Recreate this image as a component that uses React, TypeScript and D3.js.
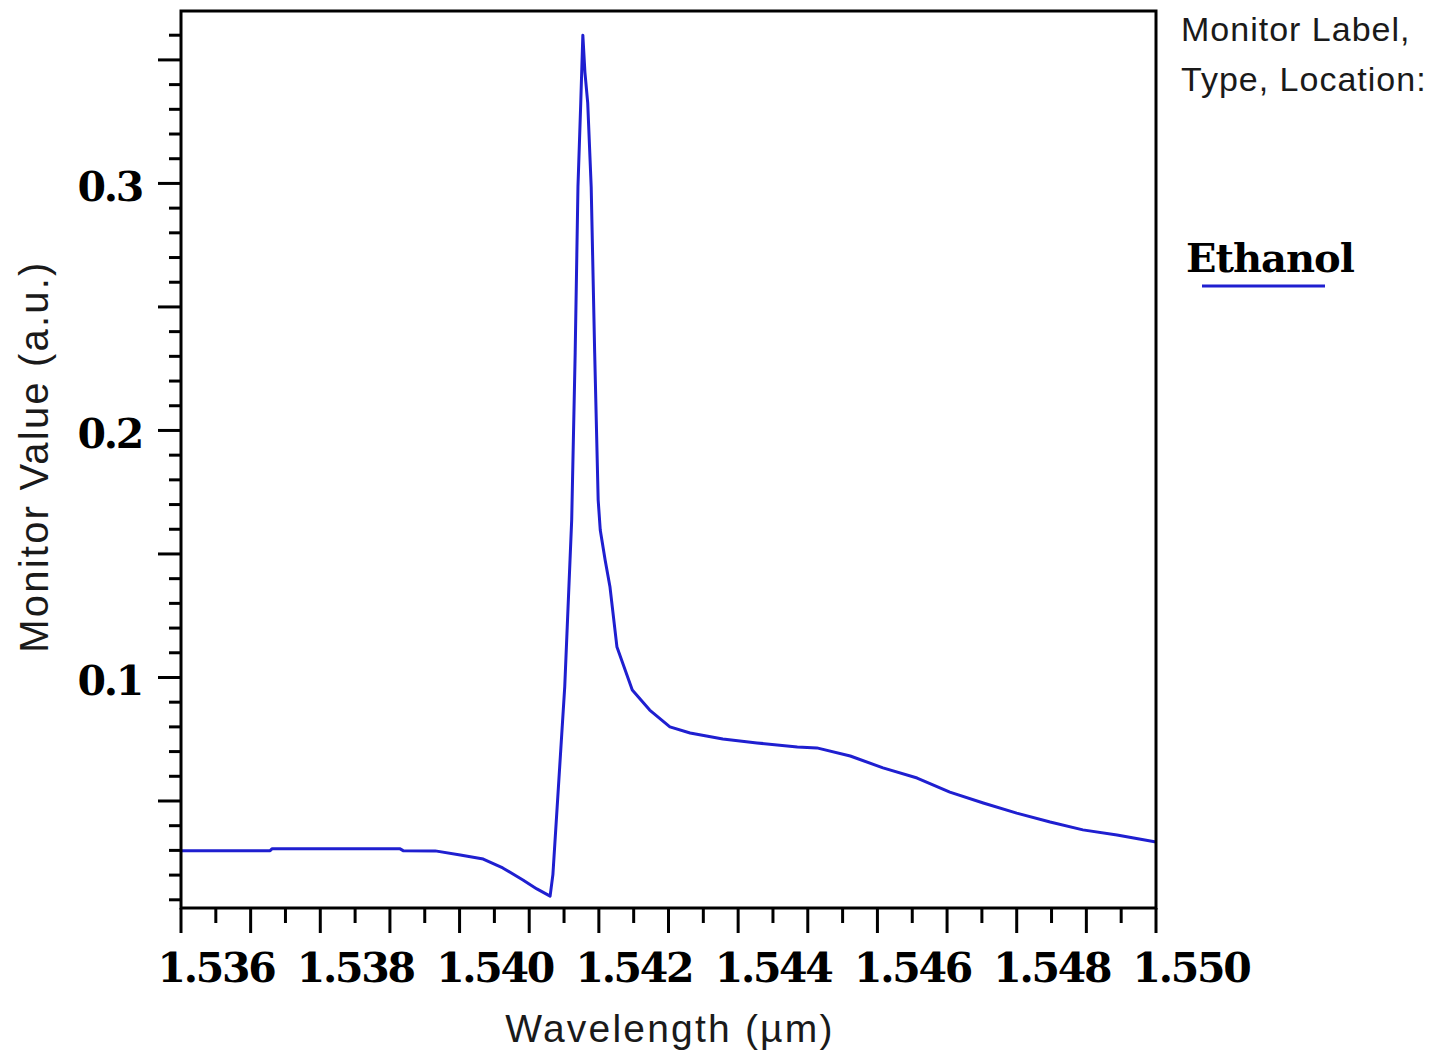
import React from "react";
import * as d3 from "d3";

const wavelengths = [
  1.536, 1.53728, 1.53731, 1.53914, 1.53919, 1.53965, 1.54001, 1.54034, 1.54062, 1.54091,
  1.54111, 1.5413, 1.54134, 1.54151, 1.54161, 1.54166, 1.5417, 1.54174, 1.54177, 1.5418,
  1.54184, 1.54189, 1.54194, 1.54199, 1.54202, 1.54209, 1.54216, 1.54226, 1.54248, 1.54273,
  1.54302, 1.54331, 1.54378, 1.54427, 1.54485, 1.54513, 1.54561, 1.54608, 1.54657, 1.54704,
  1.54752, 1.548, 1.54848, 1.54895, 1.54944, 1.55,
];
const ethanolValues = [
  0.0299, 0.0299, 0.0307, 0.0307, 0.0299, 0.0298, 0.0281, 0.0265, 0.0229, 0.018,
  0.0144, 0.0115, 0.0202, 0.0962, 0.1638, 0.2314, 0.2986, 0.3326, 0.36, 0.345,
  0.3326, 0.2986, 0.2314, 0.1719, 0.1597, 0.1476, 0.1366, 0.1123, 0.0949, 0.0868,
  0.08, 0.0775, 0.0751, 0.0735, 0.0719, 0.0715, 0.0682, 0.0634, 0.0593, 0.0536,
  0.0492, 0.0451, 0.0415, 0.0383, 0.0362, 0.0334,
];
const xTickLabels = [1.536, 1.538, 1.54, 1.542, 1.544, 1.546, 1.548, 1.55];
const yTickLabels = [0.1, 0.2, 0.3];
const legendTitle = ["Monitor Label,", "Type, Location:"];
const seriesName = "Ethanol";
const xTitle = "Wavelength (\u00b5m)";
const yTitle = "Monitor Value (a.u.)";

const W = 1452;
const H = 1063;
const L = 181, T = 11, R = 1156, B = 908;
const BLUE = "#1f1fd0";

export default function App() {
  const x = d3.scaleLinear().domain([1.536, 1.55]).range([L, R]);
  const y = d3.scaleLinear().domain([0.00668, 0.3698]).range([B, T]);
  const data = wavelengths.map((w, i) => [w, ethanolValues[i]] as [number, number]);
  const line = d3.line<[number, number]>().x(d => x(d[0])).y(d => y(d[1]));

  const xMinor = d3.range(0, 29).map(i => 1.536 + i * 0.0005);
  const yMinor = d3.range(1, 37).map(i => i * 0.01).filter(v => y(v) >= T && y(v) <= B);

  const sans = "'Liberation Sans', Arial, sans-serif";
  const serif = "'DejaVu Serif', serif";

  return (
    <svg width={W} height={H} style={{ position: "absolute", left: 0, top: 0, background: "#fff" }}>
      <rect x={0} y={0} width={W} height={H} fill="#fff" />
      {xMinor.map((v, i) => (
        <line key={"xt" + i} x1={x(v)} x2={x(v)} y1={B} y2={B + (i % 2 === 0 ? 25 : 15)} stroke="#000" strokeWidth={3} />
      ))}
      {yMinor.map((v, i) => {
        const major = Math.round(v * 100) % 5 === 0;
        return <line key={"yt" + i} x1={L - (major ? 23 : 12)} x2={L} y1={y(v)} y2={y(v)} stroke="#000" strokeWidth={3} />;
      })}
      <path d={line(data) || ""} fill="none" stroke={BLUE} strokeWidth={3} strokeLinejoin="round" />
      <rect x={L} y={T} width={R - L} height={B - T} fill="none" stroke="#000" strokeWidth={3} />
      {xTickLabels.map((v, i) => (
        <text key={"xl" + i} x={x(v) + 35} y={982} textAnchor="middle" fontFamily={serif} fontWeight="bold" fontSize={41} letterSpacing={-2.3} fill="#000">
          {v.toFixed(3)}
        </text>
      ))}
      {yTickLabels.map((v, i) => (
        <text key={"yl" + i} x={142} y={y(v) + 18} textAnchor="end" fontFamily={serif} fontWeight="bold" fontSize={41} letterSpacing={-2.3} fill="#000">
          {v.toFixed(1)}
        </text>
      ))}
      <text x={670} y={1042} textAnchor="middle" fontFamily={sans} fontSize={39} letterSpacing={2.2} fill="#1a1a1a">
        {xTitle}
      </text>
      <text transform={`translate(48, ${(T + B) / 2 - 3}) rotate(-90)`} textAnchor="middle" fontFamily={sans} fontSize={40} letterSpacing={2.2} fill="#1a1a1a">
        {yTitle}
      </text>
      {legendTitle.map((t, i) => (
        <text key={"lg" + i} x={1181} y={41 + i * 50} fontFamily={sans} fontSize={34} letterSpacing={1} fill="#1a1a1a">
          {t}
        </text>
      ))}
      <text x={1186} y={272} fontFamily={serif} fontWeight="bold" fontSize={40} letterSpacing={-1} fill="#000">
        {seriesName}
      </text>
      <line x1={1202} x2={1325} y1={286} y2={286} stroke={BLUE} strokeWidth={3} />
    </svg>
  );
}
